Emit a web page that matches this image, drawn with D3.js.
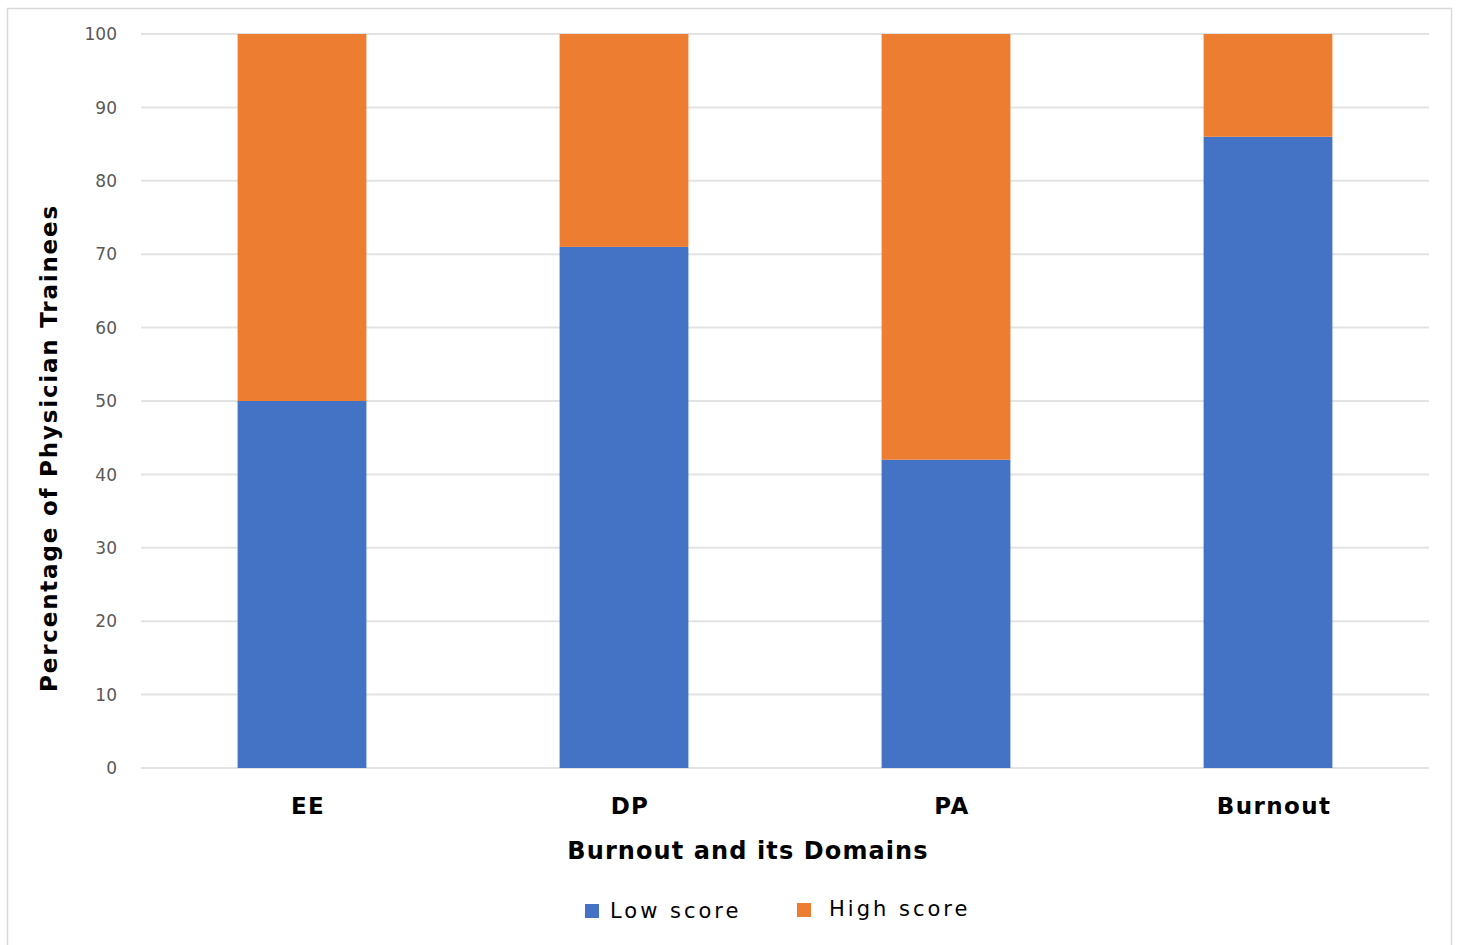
<!DOCTYPE html>
<html><head><meta charset="utf-8">
<script src="https://cdn.jsdelivr.net/npm/d3@7"></script>
<style>body{margin:0;background:#fff;} svg{display:block;}</style>
</head><body>
<svg id="chart" width="1458" height="945"></svg>
<script>
const categories = ["EE", "DP", "PA", "Burnout"];
const lowScore = [50, 71, 42, 86];
const highScore = [50, 29, 58, 14];
const seriesNames = ["Low score", "High score"];
const seriesColors = ["#4472C4", "#ED7D31"];
const yTicks = [0, 10, 20, 30, 40, 50, 60, 70, 80, 90, 100];

const svg = d3.select("#chart");
svg.append("rect").attr("x", 7.5).attr("y", 8.5).attr("width", 1444).attr("height", 945)
  .attr("fill", "#fff").attr("stroke", "#d9d9d9").attr("stroke-width", 1.5);

const m = {left: 141, right: 1429, top: 34, bottom: 768};
const x = d3.scaleBand().domain(categories).range([m.left, m.right]).paddingInner(0.6).paddingOuter(0.3);
const y = d3.scaleLinear().domain([0, 100]).range([m.bottom, m.top]);

// gridlines
svg.append("g").selectAll("line").data(yTicks).join("line")
  .attr("x1", m.left).attr("x2", m.right)
  .attr("y1", d => y(d)).attr("y2", d => y(d))
  .attr("stroke", "#e3e3e3").attr("stroke-width", 2);

// y axis labels
const yAxis = d3.axisLeft(y).tickValues(yTicks).tickSize(0).tickPadding(0);
const ya = svg.append("g").attr("transform", `translate(${m.left - 24},0)`).call(yAxis);
ya.select(".domain").remove();
ya.selectAll("text").attr("fill", "#595959").attr("dy", "0.34em")
  .style("font-family", "DejaVu Sans, sans-serif").style("font-size", "17px");

const data = categories.map((c, i) => ({cat: c, "Low score": lowScore[i], "High score": highScore[i]}));
const stacked = d3.stack().keys(seriesNames)(data);
svg.append("g").selectAll("g").data(stacked).join("g")
  .attr("fill", (d, i) => seriesColors[i])
  .selectAll("rect").data(d => d).join("rect")
  .attr("x", d => x(d.data.cat))
  .attr("width", x.bandwidth())
  .attr("y", d => y(d[1]))
  .attr("height", d => y(d[0]) - y(d[1]));

// x axis labels
const xAxis = d3.axisBottom(x).tickSize(0).tickPadding(0);
const xa = svg.append("g").attr("transform", `translate(${x.bandwidth() / 2 + 6},${m.bottom + 46})`).call(xAxis);
xa.select(".domain").remove();
xa.selectAll(".tick").attr("transform", d => `translate(${x(d)},0)`);
xa.selectAll("text").attr("fill", "#000").attr("dy", 0).style("font-family", "DejaVu Sans, sans-serif")
  .style("font-size", "23px").style("font-weight", "bold").style("letter-spacing", "1.4px");

// axis titles
svg.append("text").attr("x", 748).attr("y", 859).attr("text-anchor", "middle")
  .style("font-family", "DejaVu Sans, sans-serif").style("font-size", "24px").style("font-weight", "bold")
  .style("letter-spacing", "1.1px")
  .text("Burnout and its Domains");
svg.append("text").attr("transform", "translate(57,448) rotate(-90)").attr("text-anchor", "middle")
  .style("font-family", "DejaVu Sans, sans-serif").style("font-size", "23px").style("font-weight", "bold")
  .style("letter-spacing", "1.8px")
  .text("Percentage of Physician Trainees");

// legend
const legendX = [585, 797];
const legendTextX = [610, 829];
const lg = svg.append("g").selectAll("g").data(seriesNames).join("g");
lg.append("rect").attr("x", (d, i) => legendX[i]).attr("y", (d, i) => 904 - i * 1).attr("width", 14).attr("height", 14)
  .attr("fill", (d, i) => seriesColors[i]);
lg.append("text").attr("x", (d, i) => legendTextX[i]).attr("y", (d, i) => 918 - i * 2)
  .style("font-family", "DejaVu Sans, sans-serif").style("font-size", "21px").attr("fill", "#000")
  .style("letter-spacing", "3px")
  .text(d => d);
</script>
</body></html>
